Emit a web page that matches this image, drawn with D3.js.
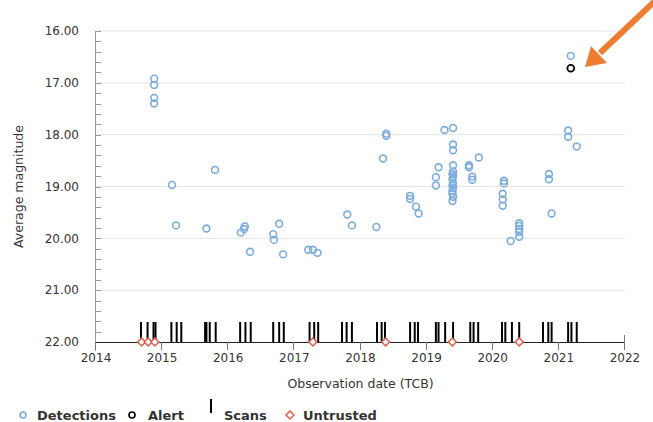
<!DOCTYPE html>
<html>
<head>
<meta charset="utf-8">
<script src="https://cdn.jsdelivr.net/npm/d3@7"></script>
<style>
  body { margin: 0; background: #fff; }
  text { font-family: "DejaVu Sans", sans-serif; fill: #333; }
</style>
</head>
<body>
<div id="chart"></div>
<script>
// detections: observation date (TCB, decimal year) and average magnitude
const detDates = [
  2014.88, 2014.88, 2014.88, 2014.88,
  2015.15, 2015.21, 2015.67, 2015.80,
  2016.19, 2016.24, 2016.25, 2016.33, 2016.68, 2016.69, 2016.77, 2016.83,
  2017.21, 2017.28, 2017.35, 2017.80, 2017.87,
  2018.24, 2018.34, 2018.39, 2018.39, 2018.75, 2018.75, 2018.84, 2018.88,
  2019.14, 2019.14, 2019.18, 2019.27,
  2019.40, 2019.40, 2019.40, 2019.40, 2019.40, 2019.39, 2019.40, 2019.39, 2019.40, 2019.39, 2019.40, 2019.39, 2019.39, 2019.40, 2019.39,
  2019.64, 2019.64, 2019.69, 2019.69, 2019.79,
  2020.15, 2020.15, 2020.15, 2020.17, 2020.17, 2020.27,
  2020.40, 2020.40, 2020.40, 2020.40, 2020.40,
  2020.85, 2020.85, 2020.89,
  2021.14, 2021.14, 2021.18, 2021.27
];
const detMags = [
  16.92, 17.04, 17.29, 17.40,
  18.97, 19.75, 19.81, 18.68,
  19.89, 19.82, 19.77, 20.26, 19.92, 20.03, 19.72, 20.31,
  20.22, 20.22, 20.28, 19.54, 19.75,
  19.78, 18.46, 17.98, 18.02, 19.18, 19.24, 19.39, 19.52,
  18.82, 18.98, 18.63, 17.91,
  17.87, 18.19, 18.30, 18.59, 18.71, 18.76, 18.80, 18.86, 18.94, 18.98, 19.03, 19.09, 19.14, 19.20, 19.28,
  18.59, 18.63, 18.81, 18.87, 18.44,
  19.14, 19.25, 19.37, 18.89, 18.94, 20.05,
  19.71, 19.76, 19.82, 19.88, 19.97,
  18.76, 18.86, 19.52,
  17.92, 18.04, 16.48, 18.23
];
const alertDates = [2021.18];
const alertMags = [16.72];

const scanDates = [
  2014.68, 2014.78, 2014.87, 2014.90,
  2015.14, 2015.22, 2015.29,
  2015.65, 2015.67, 2015.72, 2015.81,
  2016.18, 2016.26, 2016.34,
  2016.68, 2016.77, 2016.84,
  2017.23, 2017.30, 2017.36,
  2017.72, 2017.79, 2017.87,
  2018.25, 2018.32, 2018.37,
  2018.75, 2018.82, 2018.87,
  2019.14, 2019.18, 2019.28, 2019.40,
  2019.66, 2019.71, 2019.78,
  2020.14, 2020.19, 2020.29, 2020.40,
  2020.76, 2020.84, 2020.89,
  2021.14, 2021.19, 2021.27
];
const untrustedDates = [2014.69, 2014.79, 2014.89, 2017.28, 2018.38, 2019.39, 2020.40];

const yearTicks = [2014, 2015, 2016, 2017, 2018, 2019, 2020, 2021, 2022];
const magTicks = [16, 17, 18, 19, 20, 21, 22];

const W = 653, H = 422;
const margin = { top: 31, right: 28, bottom: 80, left: 96 };
const width = W - margin.left - margin.right;
const height = H - margin.top - margin.bottom;

const blue = "#7aabdd";
const red = "#de5b4c";

const svg = d3.select("#chart").append("svg")
  .attr("width", W).attr("height", H);

const g = svg.append("g")
  .attr("transform", "translate(" + margin.left + "," + margin.top + ")");

const x = d3.scaleLinear().domain([2014, 2022]).range([0, width]);
const y = d3.scaleLinear().domain([16, 22]).range([0, height]);

// grid lines
g.append("g").selectAll("line")
  .data(magTicks.slice(0, -1))
  .join("line")
  .attr("x1", 1).attr("x2", width)
  .attr("y1", d => y(d)).attr("y2", d => y(d))
  .attr("stroke", "#e4e4e4").attr("stroke-width", 1);

// y axis: minor inner ticks
const yMinor = d3.range(16, 22.001, 0.2);
const yAxisG = g.append("g").attr("class", "y-axis");
yAxisG.append("line")
  .attr("x1", -0.5).attr("x2", -0.5)
  .attr("y1", 0).attr("y2", height + 9)
  .attr("stroke", "#999");
yAxisG.selectAll(".minor")
  .data(yMinor)
  .join("line").classed("minor", true)
  .attr("x1", -0.5).attr("x2", 5)
  .attr("y1", d => Math.round(y(d)) + 0.5).attr("y2", d => Math.round(y(d)) + 0.5)
  .attr("stroke", "#999");
yAxisG.selectAll("text")
  .data(magTicks)
  .join("text")
  .attr("x", -17).attr("y", d => y(d))
  .attr("dy", "0.35em")
  .attr("text-anchor", "end")
  .style("font-size", "12px")
  .text(d3.format(".2f"));

// x axis
const xAxisG = g.append("g").attr("transform", "translate(0," + height + ")");
xAxisG.append("line")
  .attr("x1", 0).attr("x2", width)
  .attr("y1", 0.5).attr("y2", 0.5)
  .attr("stroke", "#222");
xAxisG.selectAll(".tick")
  .data(yearTicks)
  .join("line").classed("tick", true)
  .attr("x1", d => Math.round(x(d)) - 0.5).attr("x2", d => Math.round(x(d)) - 0.5)
  .attr("y1", d => d === 2022 ? -7 : 0).attr("y2", 8)
  .attr("stroke", "#777");
xAxisG.selectAll("text")
  .data(yearTicks)
  .join("text")
  .attr("x", d => x(d)).attr("y", 20)
  .attr("text-anchor", "middle")
  .style("font-size", "12px")
  .text(d => d);

// axis titles
g.append("text")
  .attr("transform", "translate(-73," + (height / 2) + ") rotate(-90)")
  .attr("text-anchor", "middle")
  .style("font-size", "12.5px")
  .text("Average magnitude");
g.append("text")
  .attr("x", x(2018)).attr("y", height + 46)
  .attr("text-anchor", "middle")
  .style("font-size", "12.5px")
  .text("Observation date (TCB)");

// scans
g.append("g").selectAll("line")
  .data(scanDates)
  .join("line")
  .attr("x1", d => x(d)).attr("x2", d => x(d))
  .attr("y1", height - 20).attr("y2", height)
  .attr("stroke", "#000").attr("stroke-width", 2);

// untrusted
const diamond = d3.symbol().type(d3.symbolDiamond2).size(40);
g.append("g").selectAll("path")
  .data(untrustedDates)
  .join("path")
  .attr("d", diamond)
  .attr("transform", d => "translate(" + x(d) + "," + height + ")")
  .attr("fill", "#fff").attr("stroke", red).attr("stroke-width", 1.5);

// detections
g.append("g").selectAll("circle")
  .data(detDates.map((d, i) => ({ t: d, m: detMags[i] })))
  .join("circle")
  .attr("cx", d => x(d.t)).attr("cy", d => y(d.m))
  .attr("r", 3.4)
  .attr("fill", "none").attr("stroke", blue).attr("stroke-width", 1.6);

// alert
g.append("g").selectAll("circle")
  .data(alertDates.map((d, i) => ({ t: d, m: alertMags[i] })))
  .join("circle")
  .attr("cx", d => x(d.t)).attr("cy", d => y(d.m))
  .attr("r", 3.4)
  .attr("fill", "none").attr("stroke", "#000").attr("stroke-width", 1.8);

// legend
const legend = svg.append("g").attr("transform", "translate(0,415)");
legend.append("circle").attr("cx", 23).attr("cy", 0).attr("r", 3)
  .attr("fill", "none").attr("stroke", blue).attr("stroke-width", 1.6);
legend.append("circle").attr("cx", 132).attr("cy", 0).attr("r", 3)
  .attr("fill", "none").attr("stroke", "#000").attr("stroke-width", 1.6);
legend.append("line").attr("x1", 211).attr("x2", 211).attr("y1", -16).attr("y2", -2)
  .attr("stroke", "#000").attr("stroke-width", 2);
legend.append("path").attr("d", diamond).attr("transform", "translate(290,0)")
  .attr("fill", "#fff").attr("stroke", red).attr("stroke-width", 1.5);
const legendItems = [["Detections", 37], ["Alert", 148], ["Scans", 224], ["Untrusted", 303]];
legend.selectAll("text.leg")
  .data(legendItems)
  .join("text").classed("leg", true)
  .attr("x", d => d[1]).attr("y", 0)
  .attr("dy", "0.35em")
  .style("font-size", "13px").style("font-weight", "bold")
  .text(d => d[0]);

// orange arrow pointing at the alert
const arrow = svg.append("g");
arrow.append("line")
  .attr("x1", 655).attr("y1", 1).attr("x2", 600).attr("y2", 53)
  .attr("stroke", "#ed7d31").attr("stroke-width", 6);
arrow.append("polygon")
  .attr("points", "585,67 591,46 607,63")
  .attr("fill", "#ed7d31");
</script>
</body>
</html>
